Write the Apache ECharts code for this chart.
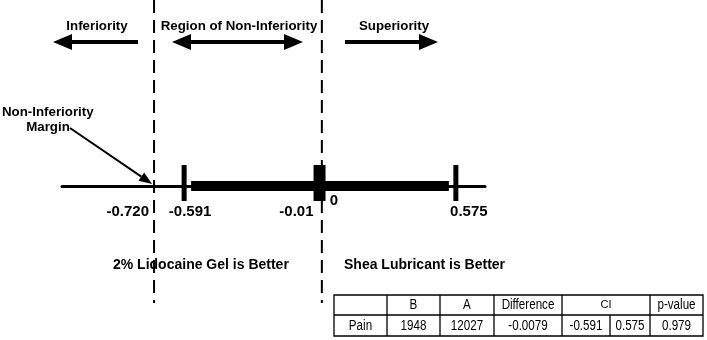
<!DOCTYPE html>
<html><head><meta charset="utf-8">
<script src="https://cdn.jsdelivr.net/npm/echarts@6/dist/echarts.min.js"></script>
<style>html,body{margin:0;padding:0;background:#fff}#c{width:707px;height:340px}</style>
</head><body><div id="c"></div>
<script>
// ---- data ----
const intervalBounds = [-0.591, 0.575];
const pointEstimate = [-0.01];
const referenceLines = [-0.720, 0];
const tickValues = [-0.720, -0.591, -0.01, 0, 0.575];
const tickLabels = ['-0.720', '-0.591', '-0.01', '0', '0.575'];
const regionLabels = ['Inferiority', 'Region of Non-Inferiority', 'Superiority'];
const sideLabels = ['2% Lidocaine Gel is Better', 'Shea Lubricant is Better'];
const marginLabel = ['Non-Inferiority', 'Margin'];
const tableHeader = ['', 'B', 'A', 'Difference', 'CI', 'p-value'];
const tableRow = ['Pain', '1948', '12027', '-0.0079', '-0.591', '0.575', '0.979'];

// ---- styles ----
const FF = '"Liberation Sans", Arial, Helvetica, sans-serif';
const BOLD13 = 'bold 13.3px ' + FF;
const BOLD14 = 'bold 14px ' + FF;
const BOLD15 = 'bold 15px ' + FF;
const tickLabelStyle = [
  {align: 'right', dx: -5, dy: 26},
  {align: 'center', dx: 6, dy: 26},
  {align: 'right', dx: -6, dy: 26},
  {align: 'left', dx: 8, dy: 15},
  {align: 'center', dx: 13, dy: 26}
];

function txt(text, x, y, font, align, extra) {
  return Object.assign({
    type: 'text', x: x, y: y,
    style: {text: text, x: 0, y: 0, font: font, fill: '#000',
      align: align, verticalAlign: 'middle', textAlign: align, textVerticalAlign: 'middle'}
  }, extra || {});
}
function arrowHead(tx, ty, dir, len, half) {
  return {type: 'polygon', shape: {points: [[tx, ty], [tx - dir * len, ty - half], [tx - dir * len, ty + half]]}, style: {fill: '#000'}};
}
function hline(x1, x2, y, w) {
  return {type: 'line', shape: {x1: x1, y1: y, x2: x2, y2: y}, style: {stroke: '#000', lineWidth: w}};
}

const graphics = [];
// top region labels and arrows
graphics.push(txt(regionLabels[0], 97, 26, BOLD13, 'center'));
graphics.push(txt(regionLabels[1], 239, 26, BOLD13, 'center'));
graphics.push(txt(regionLabels[2], 394, 26, BOLD13, 'center'));
const AY = 42;
graphics.push(hline(66, 138, AY, 4), arrowHead(53, AY, -1, 19, 8));
graphics.push(hline(186, 290, AY, 4), arrowHead(172, AY, -1, 19, 8), arrowHead(303, AY, 1, 19, 8));
graphics.push(hline(345, 425, AY, 4), arrowHead(438, AY, 1, 19, 8));
// margin label
graphics.push(txt(marginLabel[0], 2, 112, BOLD13, 'left'));
graphics.push(txt(marginLabel[1], 48, 127, BOLD13, 'center'));
// side labels
graphics.push(txt(sideLabels[0], 113, 265, BOLD14, 'left'));
graphics.push(txt(sideLabels[1], 344, 265, BOLD14, 'left'));

// table
const T = {top: 295, mid: 315, bot: 336, left: 334, right: 703};
const headCols = [334, 387, 440, 494, 562, 650, 703];
const rowCols = [334, 387, 440, 494, 562, 610, 650, 703];
const tStroke = {stroke: '#000', lineWidth: 1.3, fill: null};
graphics.push({type: 'rect', shape: {x: T.left, y: T.top, width: T.right - T.left, height: T.bot - T.top}, style: tStroke});
graphics.push({type: 'line', shape: {x1: T.left, y1: T.mid, x2: T.right, y2: T.mid}, style: tStroke});
headCols.slice(1, -1).forEach(function (x) {
  graphics.push({type: 'line', shape: {x1: x, y1: T.top, x2: x, y2: T.bot}, style: tStroke});
});
graphics.push({type: 'line', shape: {x1: 610, y1: T.mid, x2: 610, y2: T.bot}, style: tStroke});
const TFONT = '14px ' + FF;
tableHeader.forEach(function (t, i) {
  if (!t) return;
  const cx = (headCols[i] + headCols[i + 1]) / 2;
  if (t === 'CI') {
    graphics.push(txt(t, cx, 305, '10px ' + FF, 'center', {scaleX: 1.1}));
  } else {
    graphics.push(txt(t, cx, 305, TFONT, 'center', {scaleX: 0.83}));
  }
});
tableRow.forEach(function (t, i) {
  const cx = (rowCols[i] + rowCols[i + 1]) / 2;
  graphics.push(txt(t, cx, 326, TFONT, 'center', {scaleX: 0.83}));
});

const option = {
  animation: false,
  backgroundColor: '#fff',
  grid: {left: 62, right: 222, top: 0, height: 310},
  xAxis: {
    type: 'value', min: -1.115, max: 0.7,
    axisLine: {show: true, onZero: true, lineStyle: {color: '#000', width: 3}},
    axisTick: {show: false}, axisLabel: {show: false}, splitLine: {show: false}
  },
  yAxis: {type: 'value', min: -4, max: 6, show: false},
  graphic: graphics,
  series: [
    { // dashed reference lines (margin and zero)
      type: 'custom', clip: false,
      data: referenceLines.map(function (v) { return [v, 0]; }),
      renderItem: function (params, api) {
        const p = api.coord([api.value(0), 0]);
        return {type: 'line', shape: {x1: p[0], y1: 0, x2: p[0], y2: 303},
          style: {stroke: '#000', lineWidth: 2, lineDash: [13, 7]}};
      }
    },
    { // non-inferiority margin arrow
      type: 'custom', clip: false,
      data: [[referenceLines[0], 0]],
      renderItem: function (params, api) {
        const p = api.coord([api.value(0), 0]);
        const tx = p[0] - 2, ty = p[1] - 2;
        const sx = 70, sy = 128;
        const dx = tx - sx, dy = ty - sy, L = Math.sqrt(dx * dx + dy * dy);
        const ux = dx / L, uy = dy / L, len = 13, half = 5;
        const bx = tx - ux * len, by = ty - uy * len;
        return {type: 'group', children: [
          {type: 'line', shape: {x1: sx, y1: sy, x2: bx, y2: by}, style: {stroke: '#000', lineWidth: 2}},
          {type: 'polygon', shape: {points: [[tx, ty], [bx - uy * half, by + ux * half], [bx + uy * half, by - ux * half]]}, style: {fill: '#000'}}
        ]};
      }
    },
    { // confidence interval with point estimate
      type: 'custom', clip: false,
      data: [[intervalBounds[0], intervalBounds[1], pointEstimate[0]]],
      renderItem: function (params, api) {
        const lo = api.coord([api.value(0), 0]);
        const hi = api.coord([api.value(1), 0]);
        const es = api.coord([api.value(2), 0]);
        const y = lo[1];
        return {type: 'group', children: [
          {type: 'rect', shape: {x: lo[0] + 7, y: y - 5, width: (hi[0] - 7) - (lo[0] + 7), height: 10}, style: {fill: '#000'}},
          {type: 'rect', shape: {x: lo[0] - 2.5, y: y - 21, width: 5, height: 36}, style: {fill: '#000'}},
          {type: 'rect', shape: {x: hi[0] - 2.5, y: y - 21, width: 5, height: 36}, style: {fill: '#000'}},
          {type: 'rect', shape: {x: es[0] - 6, y: y - 21, width: 12, height: 36}, style: {fill: '#000'}}
        ]};
      }
    },
    { // value labels under the axis
      type: 'custom', clip: false,
      data: tickValues.map(function (v, i) { return [v, 0, i]; }),
      renderItem: function (params, api) {
        const i = api.value(2);
        const p = api.coord([api.value(0), 0]);
        const s = tickLabelStyle[i];
        return {type: 'text', x: p[0] + s.dx, y: p[1] + s.dy,
          style: {text: tickLabels[i], x: 0, y: 0, font: BOLD15, fill: '#000',
            align: s.align, verticalAlign: 'middle', textAlign: s.align, textVerticalAlign: 'middle'}};
      }
    }
  ]
};
const chart = echarts.init(document.getElementById('c'), null, {renderer: 'canvas'});
chart.setOption(option);
</script>
</body></html>
